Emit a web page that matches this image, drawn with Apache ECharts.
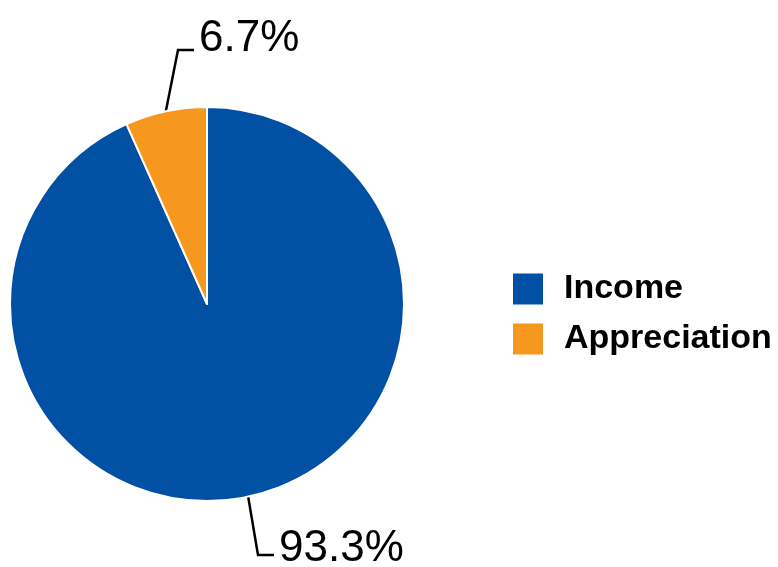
<!DOCTYPE html>
<html>
<head>
<meta charset="utf-8">
<script src="https://cdn.jsdelivr.net/npm/echarts@6/dist/echarts.min.js"></script>
<style>html,body{margin:0;padding:0;background:#fff;}#c{width:778px;height:567px;}</style>
</head>
<body>
<div id="c"></div>
<script>
var categories = ['Income', 'Appreciation'];
var values = [93.3, 6.7];
var colors = ['#0050A4', '#F7981E'];

var FONT = '"Liberation Sans Narrow", "Arial Narrow", "Liberation Sans", Arial, sans-serif';
var chart = echarts.init(document.getElementById('c'));
var labelPos = {
  'Income': {x: 279, y: 524, ex: 258, ey: 555},
  'Appreciation': {x: 199, y: 14, ex: 178, ey: 50}
};
chart.setOption({
  animation: false,
  color: colors,
  legend: {
    orient: 'vertical',
    left: 511,
    top: 268,
    padding: 0,
    itemWidth: 32,
    itemHeight: 33,
    itemGap: 8,
    icon: 'rect',
    textStyle: {fontFamily: FONT, fontSize: 34, fontWeight: 'bold', color: '#000', lineHeight: 42, padding: [0, 0, 0, 15]},
    data: categories
  },
  series: [{
    type: 'pie',
    center: [207, 304],
    radius: 197,
    startAngle: 90,
    clockwise: true,
    itemStyle: {borderColor: '#fff', borderWidth: 2},
    label: {
      show: true,
      position: 'outside',
      formatter: function (p) { return p.value.toFixed(1) + '%'; },
      fontFamily: FONT,
      fontSize: 44,
      color: '#000',
      lineHeight: 50
    },
    labelLine: {show: true, length: 20, length2: 15, lineStyle: {color: '#000', width: 2.5}},
    labelLayout: function (params) {
      var name = categories[params.dataIndex];
      var lp = labelPos[name];
      var start = params.labelLinePoints ? params.labelLinePoints[0] : [lp.ex, lp.ey];
      return {
        x: lp.x,
        y: lp.y,
        align: 'left',
        verticalAlign: 'top',
        labelLinePoints: [start, [lp.ex, lp.ey], [lp.x - 5, lp.ey]]
      };
    },
    data: categories.map(function (c, i) { return {name: c, value: values[i]}; })
  }]
});
</script>
</body>
</html>
